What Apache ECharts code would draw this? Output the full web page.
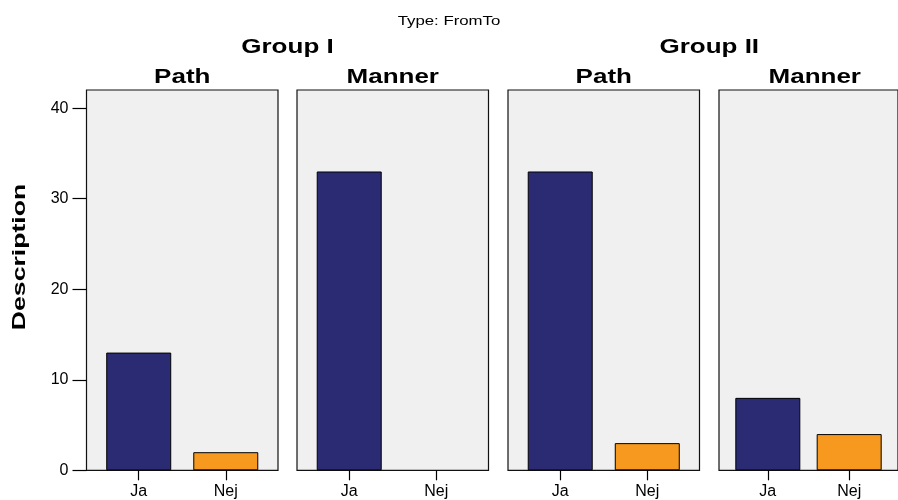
<!DOCTYPE html>
<html>
<head>
<meta charset="utf-8">
<script src="https://cdn.jsdelivr.net/npm/echarts@6/dist/echarts.min.js"></script>
<style>
  html, body { margin: 0; padding: 0; background: #ffffff; }
  #chart { width: 898px; height: 500px; }
</style>
</head>
<body>
<div id="chart"></div>
<script>
// Answer categories shown on every panel's x axis
const categories = ['Ja', 'Nej'];
// Panel headings (outer group, inner strip)
const groups = ['Group I', 'Group II'];
const panelTitles = ['Path', 'Manner', 'Path', 'Manner'];
// Counts per panel, in category order
const groupIPath = [13, 2];
const groupIManner = [33, 0];
const groupIIPath = [33, 3];
const groupIIManner = [8, 4];
const yTicks = [0, 10, 20, 30, 40];
const chartTitle = 'Type: FromTo';
const yName = 'Description';

const panelValues = [groupIPath, groupIManner, groupIIPath, groupIIManner];
const barColors = ['#2a2b73', '#f7991f'];

// Panel geometry
const panelLeft = [86.5, 297, 508, 719];
const panelWidth = 191.5;
const panelTop = 90;
const panelHeight = 380.3;

const labelFont = { color: '#000', fontFamily: '"Liberation Sans", Arial, sans-serif', fontSize: 16 };

const grids = [], xAxes = [], yAxes = [], series = [];
panelValues.forEach((vals, i) => {
  grids.push({
    left: panelLeft[i], top: panelTop, width: panelWidth, height: panelHeight,
    show: true, backgroundColor: '#f0f0f0', borderColor: '#111', borderWidth: 1.2,
    containLabel: false
  });
  xAxes.push({
    type: 'value', gridIndex: i, min: 0.4, max: 2.6,
    splitLine: { show: false },
    axisLine: { show: false },
    axisTick: { show: true, length: 10, customValues: [1, 2], lineStyle: { color: '#000', width: 1.2 } },
    axisLabel: Object.assign({
      show: true, customValues: [1, 2], margin: 13,
      formatter: v => categories[Math.round(v) - 1] || ''
    }, labelFont)
  });
  yAxes.push({
    type: 'value', gridIndex: i, min: 0, max: 42,
    splitLine: { show: false },
    axisLine: { show: false },
    axisTick: { show: i === 0, length: 14, customValues: yTicks, lineStyle: { color: '#000', width: 1.2 } },
    axisLabel: Object.assign({
      show: i === 0, margin: 18, customValues: yTicks,
      formatter: v => String(v)
    }, labelFont)
  });
  series.push({
    type: 'bar', xAxisIndex: i, yAxisIndex: i,
    barWidth: 65,
    data: vals.map((v, k) => ({
      value: [k + 1, v],
      itemStyle: { color: barColors[k], borderColor: '#000', borderWidth: v > 0 ? 1 : 0 }
    })),
    animation: false
  });
});

// Header texts
const textEls = [];
const bold = 'bold 20px "Liberation Sans", Arial, sans-serif';
textEls.push({
  type: 'text', x: 449, y: 21.5, scaleX: 1.4,
  style: { text: chartTitle, font: '12px "Liberation Sans", Arial, sans-serif', fill: '#000',
           textAlign: 'center', textVerticalAlign: 'middle' }
});
groups.forEach((g, gi) => {
  const cx = (panelLeft[gi * 2] + panelLeft[gi * 2 + 1] + panelWidth) / 2;
  textEls.push({
    type: 'text', x: cx, y: 47, scaleX: 1.3,
    style: { text: g, font: bold, fill: '#000', textAlign: 'center', textVerticalAlign: 'middle' }
  });
});
panelTitles.forEach((t, i) => {
  textEls.push({
    type: 'text', x: panelLeft[i] + panelWidth / 2, y: 77.5, scaleX: 1.3,
    style: { text: t, font: bold, fill: '#000', textAlign: 'center', textVerticalAlign: 'middle' }
  });
});
textEls.push({
  type: 'text', x: 20, y: 257, rotation: Math.PI / 2, scaleX: 1.4,
  style: { text: yName, font: 'bold 19px "Liberation Sans", Arial, sans-serif', fill: '#000',
           textAlign: 'center', textVerticalAlign: 'middle' }
});

const chart = echarts.init(document.getElementById('chart'), null, { renderer: 'canvas' });
chart.setOption({
  animation: false,
  backgroundColor: '#ffffff',
  grid: grids,
  xAxis: xAxes,
  yAxis: yAxes,
  series: series,
  graphic: textEls
});
</script>
</body>
</html>
